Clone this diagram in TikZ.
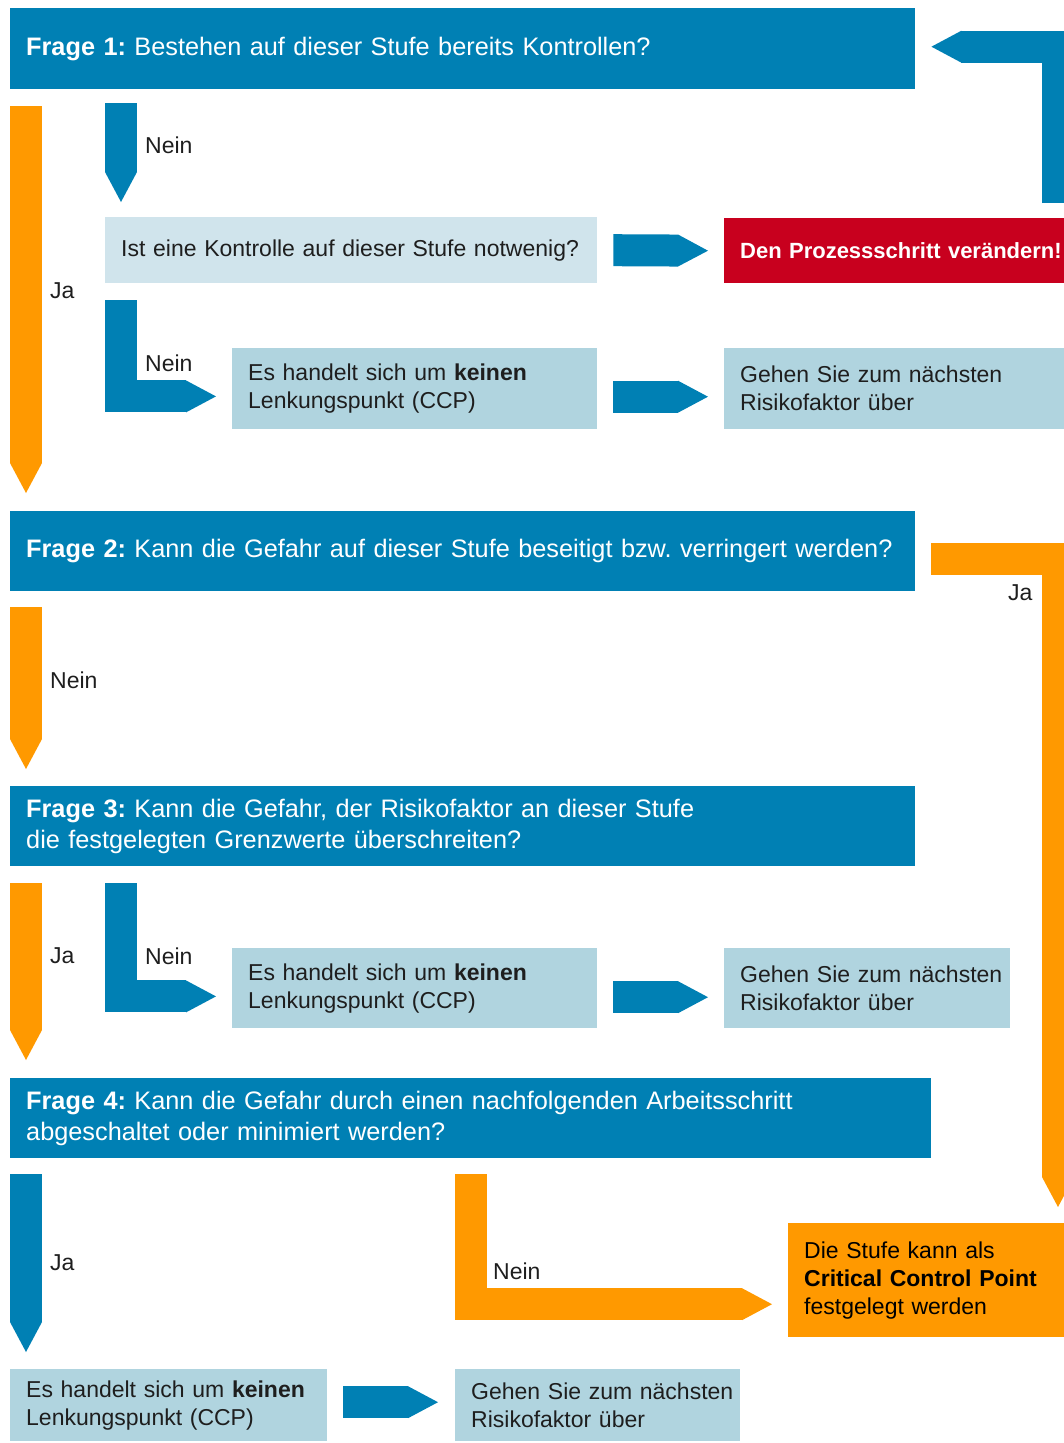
\documentclass[tikz,border=0pt]{standalone}
\usepackage{fontspec}
\setmainfont{Liberation Sans}
\usetikzlibrary{arrows.meta}
\definecolor{hblue}{HTML}{0080B4}
\definecolor{hpale}{HTML}{D0E4EC}
\definecolor{hlight}{HTML}{B0D4DF}
\definecolor{hred}{HTML}{C8001E}
\definecolor{horange}{HTML}{FF9900}
\definecolor{htext}{HTML}{1E1E1E}
\frenchspacing
\begin{document}
\begin{tikzpicture}[x=1pt,y=-1pt,
  every node/.style={font=\fontsize{23}{28}\selectfont},
  qbox/.style={fill=hblue, text=white, anchor=north west, inner xsep=16pt, inner ysep=0pt, align=left, font=\fontsize{25.3}{31}\selectfont},
  infobox/.style={fill=hlight, text=htext, anchor=north west, inner xsep=16pt, inner ysep=0pt, align=left},
  ccpbox/.style={fill=horange, text=black, anchor=north west, inner xsep=16pt, inner ysep=0pt, align=left},
  lbl/.style={anchor=west, inner sep=0pt, text=htext},
  barrow/.style={line width=32pt, -{Triangle[length=30pt,width=32pt,line width=0pt]}},
  blue arrow/.style={barrow, draw=hblue},
  orange arrow/.style={barrow, draw=horange}]
\useasboundingbox (0,0) rectangle (1064,1443);
\clip (0,0) rectangle (1064,1443);
\node[qbox, text width=873pt, minimum height=81pt] (f1) at (10,8) {\textbf{Frage 1:} Bestehen auf dieser Stufe bereits Kontrollen?};
\node[infobox, fill=hpale, text width=460pt, minimum height=66pt] (q1) at (105,217) {\mbox{Ist eine Kontrolle auf dieser Stufe notwenig?}};
\node[qbox, fill=hred, text width=330pt, minimum height=65pt, font=\fontsize{22}{28}\selectfont] (chg) at (724,218) {\mbox{\textbf{Den Prozessschritt verändern!}}};
\node[infobox, text width=333pt, minimum height=81pt] (nccp1) at (232,348) {Es handelt sich um \textbf{keinen}\\Lenkungspunkt (CCP)};
\node[infobox, text width=330pt, minimum height=81pt] (next1) at (724,348) {Gehen Sie zum nächsten\\Risikofaktor über};
\node[qbox, text width=873pt, minimum height=80pt] (f2) at (10,511) {\mbox{\textbf{Frage 2:} Kann die Gefahr auf dieser Stufe beseitigt bzw. verringert werden?}};
\node[qbox, text width=873pt, minimum height=80pt] (f3) at (10,786) {\textbf{Frage 3:} Kann die Gefahr, der Risikofaktor an dieser Stufe\\die festgelegten Grenzwerte überschreiten?};
\node[infobox, text width=333pt, minimum height=80pt] (nccp3) at (232,948) {Es handelt sich um \textbf{keinen}\\Lenkungspunkt (CCP)};
\node[infobox, text width=254pt, minimum height=80pt] (next3) at (724,948) {\mbox{Gehen Sie zum nächsten}\\Risikofaktor über};
\node[qbox, text width=889pt, minimum height=80pt] (f4) at (10,1078) {\textbf{Frage 4:} Kann die Gefahr durch einen nachfolgenden Arbeitsschritt\\abgeschaltet oder minimiert werden?};
\node[ccpbox, text width=266pt, minimum height=114pt] (ccp) at (788,1223) {Die Stufe kann als\\\textbf{Critical Control Point}\\festgelegt werden};
\node[infobox, text width=285pt, minimum height=72pt] (nccp4) at (10,1369) {\mbox{Es handelt sich um \textbf{keinen}}\\Lenkungspunkt (CCP)};
\node[infobox, text width=253pt, minimum height=72pt] (next4) at (455,1369) {\mbox{Gehen Sie zum nächsten}\\Risikofaktor über};
\node[lbl] (n1) at (145,145) {Nein};
\node[lbl] (j1) at (50,291) {Ja};
\node[lbl] (n2) at (145,363) {Nein};
\node[lbl] (j2) at (1008,593) {Ja};
\node[lbl] (n3) at (50,680) {Nein};
\node[lbl] (j3) at (50,956) {Ja};
\node[lbl] (n4) at (145,956) {Nein};
\node[lbl] (j4) at (50,1263) {Ja};
\node[lbl] (n5) at (493,1271) {Nein};
\draw[orange arrow] ([shift={(16,17)}]f1.south west) -- ([shift={(16,-18)}]f2.north west);
\draw[blue arrow] ([shift={(111,14)}]f1.south west) -- ([shift={(16,-15)}]q1.north west);
\draw[blue arrow] ([xshift=16]q1.east) -- ([xshift=-16]chg.west);
\draw[blue arrow] ([shift={(16,17)}]q1.south west) |- ([shift={(-16,-33)}]nccp1.south west);
\draw[blue arrow] ([shift={(16,8)}]nccp1.east) -- ([shift={(-16,8)}]next1.west);
\draw[blue arrow] ([shift={(334,-15)}]chg.north west) |- ([shift={(16,-2)}]f1.east);
\draw[orange arrow] ([shift={(16,8)}]f2.east) -| ([shift={(270,-16)}]ccp.north west);
\draw[orange arrow] ([shift={(16,16)}]f2.south west) -- ([shift={(16,-17)}]f3.north west);
\draw[orange arrow] ([shift={(16,17)}]f3.south west) -- ([shift={(16,-18)}]f4.north west);
\draw[blue arrow] ([shift={(111,17)}]f3.south west) |- ([shift={(-16,-32)}]nccp3.south west);
\draw[blue arrow] ([shift={(16,9)}]nccp3.east) -- ([shift={(-16,9)}]next3.west);
\draw[blue arrow] ([shift={(16,16)}]f4.south west) -- ([shift={(16,-17)}]nccp4.north west);
\draw[orange arrow] ([shift={(461,16)}]f4.south west) |- ([shift={(-16,24)}]ccp.west);
\draw[blue arrow] ([shift={(16,-3)}]nccp4.east) -- ([shift={(-17,-3)}]next4.west);
\end{tikzpicture}
\end{document}
